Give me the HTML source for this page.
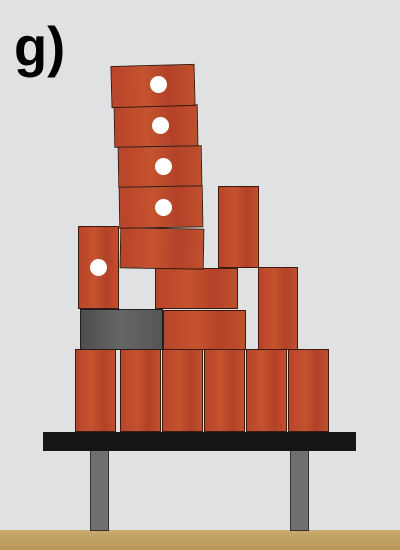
<!DOCTYPE html>
<html><head><meta charset="utf-8"><style>
html,body{margin:0;padding:0}
body{width:400px;height:550px;background:#dfe1e3;position:relative;overflow:hidden;font-family:"Liberation Sans",sans-serif}
.b{position:absolute;box-sizing:border-box;background:linear-gradient(90deg,#b8442a,#c4532f 40%,#b34128 70%,#c0502e);border:1.5px solid #3b1a0f}
.g{background:linear-gradient(90deg,#4e4e4e,#666 50%,#555);border:1.5px solid #1e1e1e}
.d{position:absolute;width:17px;height:17px;border-radius:50%;background:#fff}
</style></head><body>
<div style="position:absolute;left:14px;top:14px;font-size:56px;font-weight:bold;color:#000;transform:scaleX(0.97);transform-origin:left">g)</div>
<div style="position:absolute;left:0;top:530px;width:400px;height:20px;background:linear-gradient(#c9ab6e,#b8965a)"></div>
<div style="position:absolute;left:90px;top:450px;width:19px;height:81px;background:#6f6f6f;border:1px solid #333;box-sizing:border-box"></div>
<div style="position:absolute;left:290px;top:450px;width:19px;height:81px;background:#6f6f6f;border:1px solid #333;box-sizing:border-box"></div>
<div style="position:absolute;left:43px;top:432px;width:313px;height:19px;background:#161616"></div>

<div class="b" style="left:75px;top:349px;width:41px;height:83px"></div>
<div class="b" style="left:120px;top:349px;width:41px;height:83px"></div>
<div class="b" style="left:162px;top:349px;width:41px;height:83px"></div>
<div class="b" style="left:204px;top:349px;width:41px;height:83px"></div>
<div class="b" style="left:246px;top:349px;width:41px;height:83px"></div>
<div class="b" style="left:288px;top:349px;width:41px;height:83px"></div>

<div class="b g" style="left:80px;top:309px;width:83px;height:41px"></div>
<div class="b" style="left:163px;top:310px;width:83px;height:40px"></div>
<div class="b" style="left:258px;top:267px;width:40px;height:83px"></div>
<div class="b" style="left:78px;top:226px;width:41px;height:83px"></div>
<div class="d" style="left:90px;top:259px"></div>
<div class="b" style="left:155px;top:268px;width:83px;height:41px"></div>
<div class="b" style="left:218px;top:186px;width:41px;height:82px"></div>

<div class="b" style="left:120px;top:228px;width:84px;height:41px;transform:rotate(1deg)"></div>
<div class="b" style="left:119px;top:186px;width:84px;height:42px;transform:rotate(-1deg)"></div>
<div class="d" style="left:155px;top:199px"></div>
<div class="b" style="left:118px;top:146px;width:84px;height:41px;transform:rotate(-1deg)"></div>
<div class="d" style="left:155px;top:158px"></div>
<div class="b" style="left:114px;top:105px;width:84px;height:42px;transform:rotate(-1deg)"></div>
<div class="d" style="left:152px;top:117px"></div>
<div class="b" style="left:111px;top:65px;width:84px;height:42px;transform:rotate(-1.5deg)"></div>
<div class="d" style="left:150px;top:76px"></div>
</body></html>
